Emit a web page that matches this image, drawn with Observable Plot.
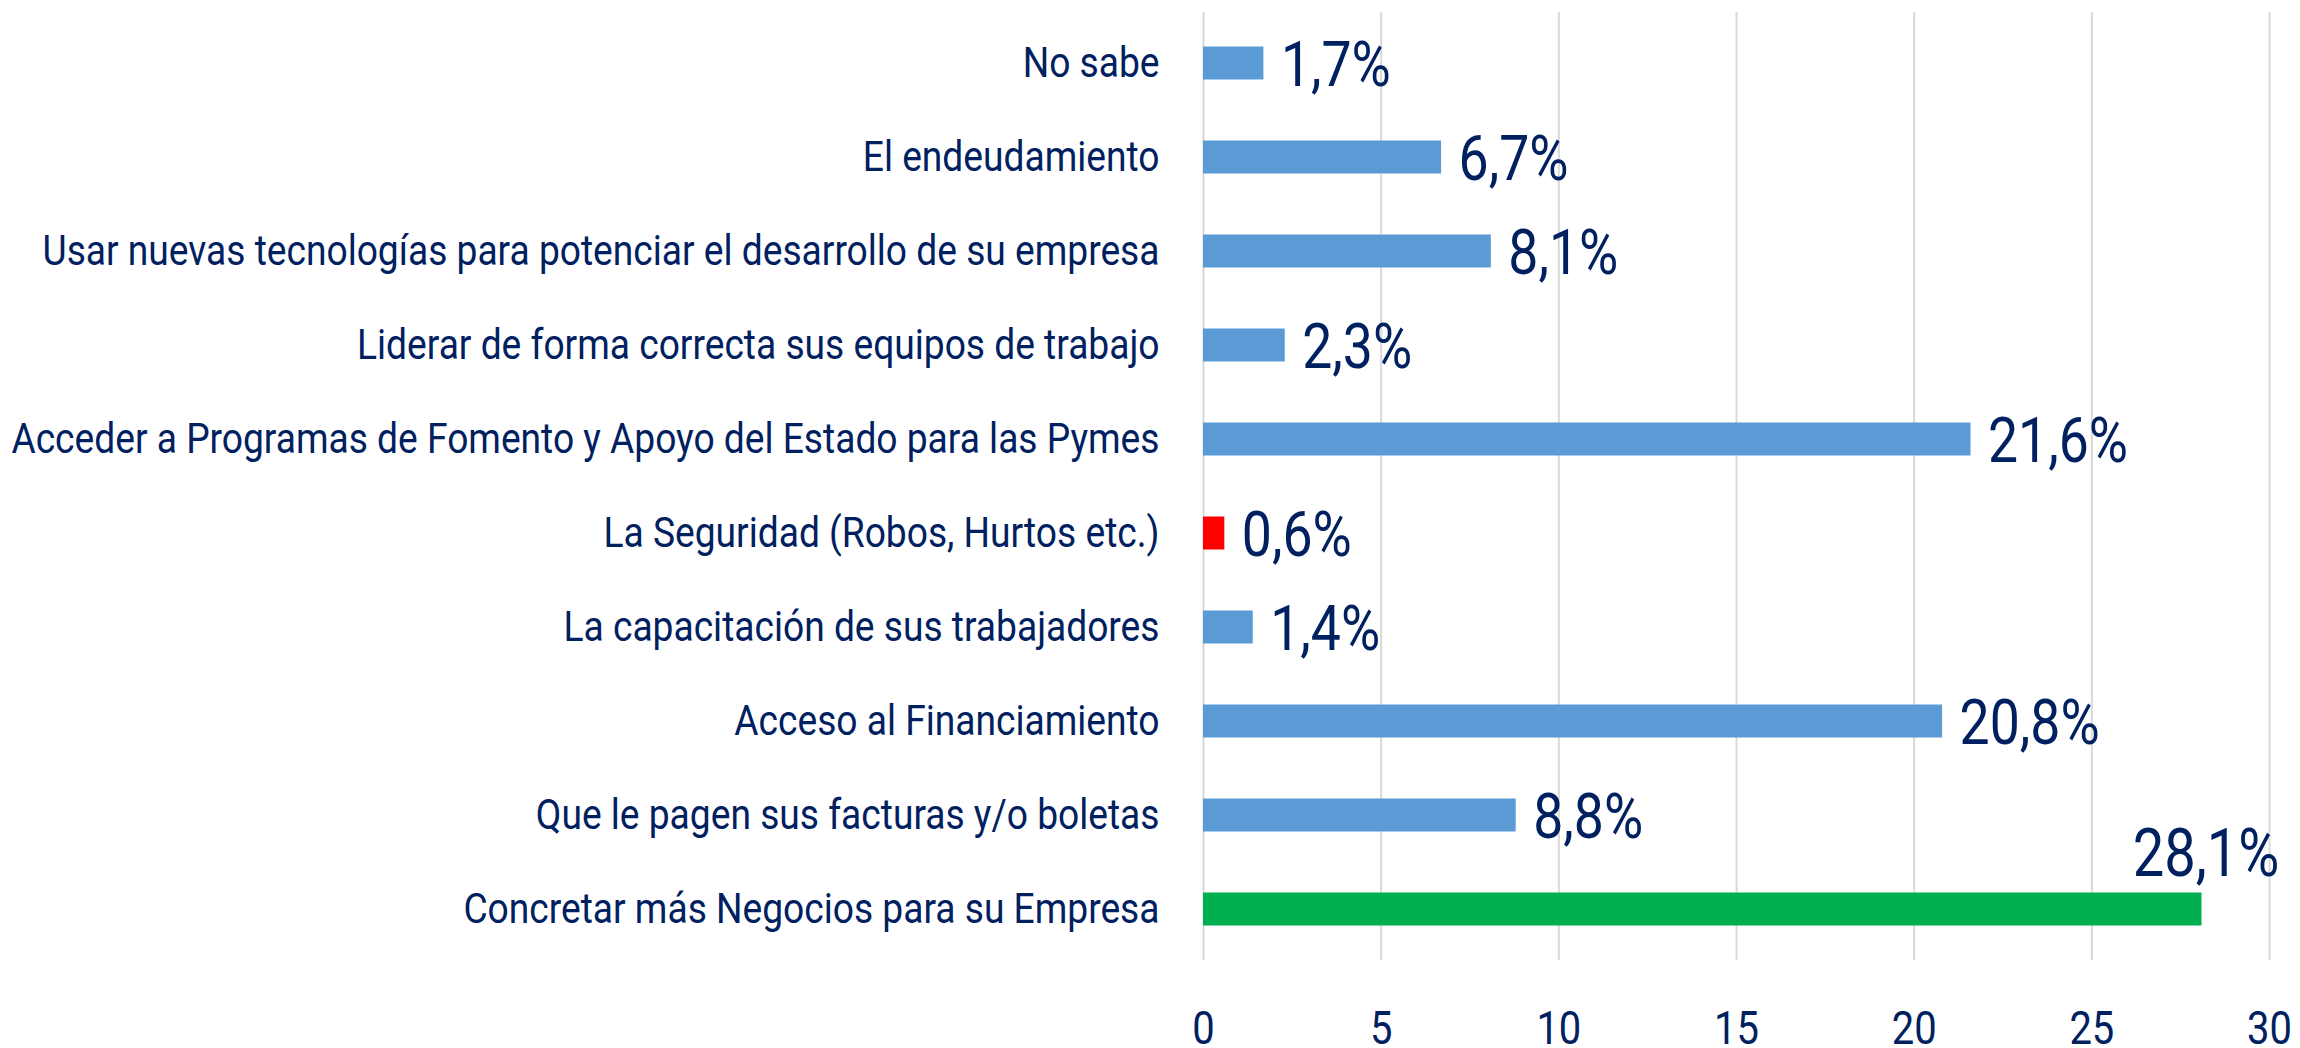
<!DOCTYPE html>
<html>
<head>
<meta charset="utf-8">
<script src="https://cdn.jsdelivr.net/npm/d3@7"></script>
<script src="https://cdn.jsdelivr.net/npm/@observablehq/plot@0.6"></script>
<style>
  html, body { margin: 0; padding: 0; background: #ffffff; }
  #chart svg { display: block; }
</style>
</head>
<body>
<div id="chart"></div>
<script>
const categories = [
  "No sabe",
  "El endeudamiento",
  "Usar nuevas tecnologías para potenciar el desarrollo de su empresa",
  "Liderar de forma correcta sus equipos de trabajo",
  "Acceder a Programas de Fomento y Apoyo del Estado para las Pymes",
  "La Seguridad (Robos, Hurtos etc.)",
  "La capacitación de sus trabajadores",
  "Acceso al Financiamiento",
  "Que le pagen sus facturas y/o boletas",
  "Concretar más Negocios para su Empresa"
];
const values = [1.7, 6.7, 8.1, 2.3, 21.6, 0.6, 1.4, 20.8, 8.8, 28.1];
const xTicks = [0, 5, 10, 15, 20, 25, 30];
const greenCategory = "Concretar más Negocios para su Empresa";
const redCategory = "La Seguridad (Robos, Hurtos etc.)";

const data = categories.map((c, i) => ({category: c, value: values[i]}));
const fmt = v => v.toFixed(1).replace(".", ",") + "%";
const fillOf = d => d.category === greenCategory ? "#00B050" : d.category === redCategory ? "#FF0000" : "#5B9BD5";

const plot = Plot.plot({
  width: 2300,
  height: 1048,
  marginTop: 12,
  marginBottom: 88,
  marginLeft: 1203,
  marginRight: 31,
  style: {fontFamily: "Roboto", color: "#002060", background: "#ffffff", overflow: "visible"},
  x: {domain: [0, 30], ticks: xTicks, tickSize: 0, tickPadding: 50, fontSize: 47, label: null},
  y: {domain: categories, padding: 0, tickSize: 0, tickPadding: 44, label: null},
  marks: [
    Plot.ruleX(xTicks, {x: d => d, stroke: "#D9D9D9", strokeWidth: 2}),
    Plot.barX(data, {x: "value", y: "category", fill: fillOf, insetTop: 30.5, insetBottom: 30.5}),
    Plot.axisY({tickSize: 0, tickPadding: 44, fontSize: 42, fill: "#002060", label: null}),
    Plot.axisX({ticks: xTicks, tickSize: 0, tickPadding: 50, fontSize: 47, fill: "#002060", label: null}),
    Plot.text(data.filter(d => d.category !== greenCategory), {
      x: "value", y: "category", text: d => fmt(d.value),
      textAnchor: "start", dx: 17, dy: 2, fontSize: 63, fill: "#002060", ariaLabel: "value label"
    }),
    Plot.text(data.filter(d => d.category === greenCategory), {
      x: "value", y: "category", text: d => fmt(d.value),
      textAnchor: "middle", dx: 4, dy: -55, fontSize: 66, fill: "#002060", ariaLabel: "top label"
    })
  ]
});

// condense text horizontally (the reference uses a narrow face)
d3.select(plot).selectAll("text").each(function() {
  const t = this.getAttribute("transform");
  const g = this.closest("g");
  const label = g ? g.getAttribute("aria-label") : "";
  const s = label === "y-axis tick label" ? 0.885 : label === "value label" ? 0.875 : 0.85;
  if (t) this.setAttribute("transform", t + ` scale(${s},1)`);
});

document.getElementById("chart").appendChild(plot);
</script>
</body>
</html>
